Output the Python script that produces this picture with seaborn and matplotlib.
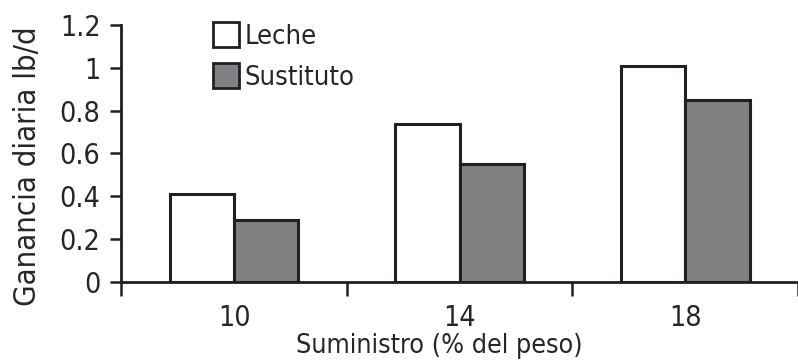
import matplotlib
matplotlib.use("Agg")
import matplotlib.pyplot as plt
from matplotlib import font_manager
from matplotlib.ticker import FixedLocator, FuncFormatter
from matplotlib.patches import Patch
import seaborn as sns
import pandas as pd

# Datos: ganancia diaria (lb/d) según el suministro (% del peso vivo)
suministro = ["10", "14", "18"]
leche = [0.41, 0.74, 1.01]
sustituto = [0.29, 0.55, 0.85]
series = ["Leche", "Sustituto"]
y_ticks = [0, 0.2, 0.4, 0.6, 0.8, 1.0, 1.2]

df = pd.DataFrame({
    "Suministro": suministro * 2,
    "Ganancia": leche + sustituto,
    "Serie": [series[0]] * len(suministro) + [series[1]] * len(suministro),
})

sns.set_style("white")

# Preferir una fuente estrecha si está instalada
narrow = [f for f in font_manager.fontManager.ttflist
          if ("Narrow" in f.name or f.stretch == "condensed"
              or "Condensed" in f.fname) and f.style == "normal"
          and f.weight in (400, "normal", "regular")]
if narrow:
    plt.rcParams["font.family"] = [narrow[0].name, "DejaVu Sans"]
    plt.rcParams["font.stretch"] = narrow[0].stretch
    k = 1.0
else:
    plt.rcParams["font.family"] = ["Roboto", "DejaVu Sans"]
    k = 1.03

fs_tick = 20.5 * k
fs_xlab = 19.3 * k
fs_ylab = 22.3 * k
fs_leg = 19.5 * k

fig = plt.figure(figsize=(7.98, 3.6), dpi=100)
ax = fig.add_axes([0.152, 0.2175, 0.848, 0.7125])

colores = {"Leche": "white", "Sustituto": "#808184"}
sns.barplot(data=df, x="Suministro", y="Ganancia", hue="Serie",
            order=suministro, hue_order=series, palette=colores,
            edgecolor="#231f20", linewidth=2.2, width=0.57,
            ax=ax, legend=False)

ax.set_ylim(0, 1.2)
ax.set_xlim(-0.5, 2.456)

for s in ["top", "right"]:
    ax.spines[s].set_visible(False)
for s in ["left", "bottom"]:
    ax.spines[s].set_color("#231f20")
    ax.spines[s].set_linewidth(2.0)

ax.yaxis.set_major_locator(FixedLocator(y_ticks))
ax.yaxis.set_major_formatter(FuncFormatter(lambda v, p: f"{v:g}"))
ax.tick_params(axis="y", direction="out", length=8, width=1.8,
               color="#231f20", labelsize=fs_tick, pad=7, left=True)

# Etiquetas en el centro de cada grupo; marcas en los límites entre grupos
ax.set_xticks(range(len(suministro)))
ax.set_xticklabels(suministro)
ax.tick_params(axis="x", which="major", length=0, labelsize=fs_tick, pad=16)
ax.set_xticks([-0.5, 0.5, 1.5, 2.5], minor=True)
ax.tick_params(axis="x", which="minor", direction="out", length=10,
               width=1.8, color="#231f20", bottom=True)

ax.set_xlabel("Suministro (% del peso)", fontsize=fs_xlab, labelpad=1, x=0.47)
ax.set_ylabel("Ganancia diaria lb/d", fontsize=fs_ylab, labelpad=13, y=0.45)

handles = [Patch(facecolor=colores[s], edgecolor="#231f20", linewidth=2.0)
           for s in series]
ax.legend(handles, series, loc="upper left", bbox_to_anchor=(0.12, 1.055),
          frameon=False, fontsize=fs_leg, handlelength=0.95, handleheight=1.05,
          handletextpad=0.2, labelspacing=0.5, borderaxespad=0)

fig.savefig("out.png", dpi=100)
